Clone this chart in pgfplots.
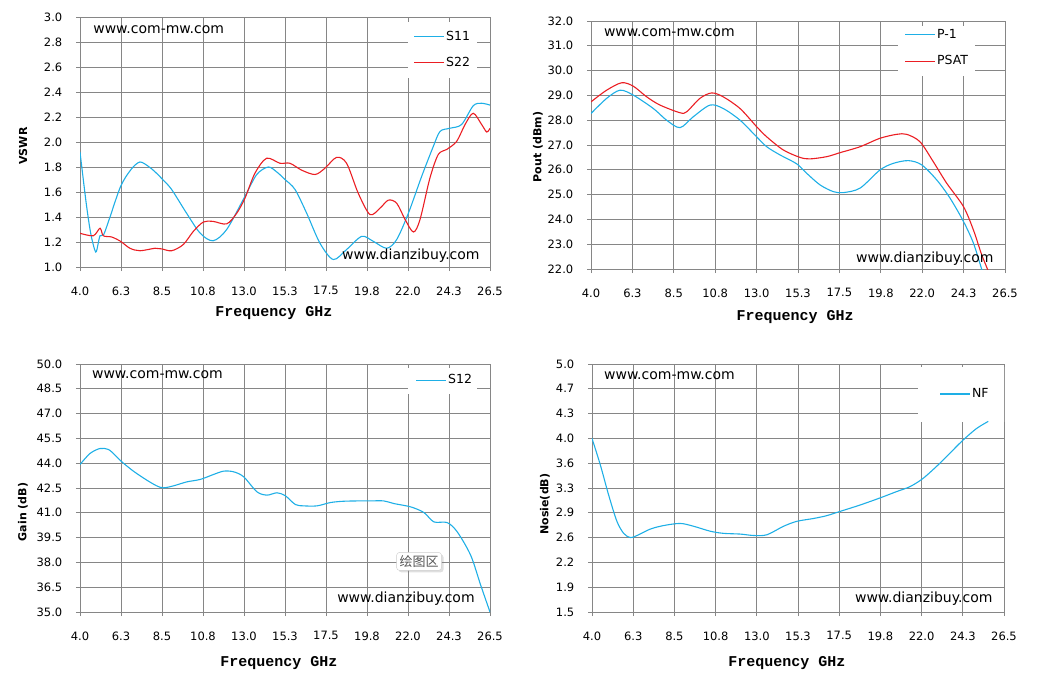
\documentclass[border=0pt]{standalone}
\usepackage{fontspec}
\setmainfont{DejaVu Sans}
\newfontfamily\monofont{Liberation Mono}
\newfontfamily\cjk{Noto Sans CJK SC}
\usepackage{pgfplots}
\pgfplotsset{compat=1.18}
\usetikzlibrary{shadows}
\definecolor{cblue}{RGB}{30,175,230}
\definecolor{cred}{RGB}{235,30,35}
\definecolor{cgrid}{RGB}{134,134,134}
\tikzset{wm/.style={anchor=west, font=\fontsize{14bp}{16bp}\selectfont, inner sep=0pt}}
\pgfplotsset{
  rfstyle/.style={
    scale only axis, width=410bp, height=248bp,
    xmin=4, xmax=26.5,
    xtick={4,6.25,8.5,10.75,13,15.25,17.5,19.75,22,24.25,26.5},
    xticklabels={4.0,6.3,8.5,10.8,13.0,15.3,17.5,19.8,22.0,24.3,26.5},
    grid=major, grid style={cgrid, line width=0.8bp},
    axis line style={cgrid, line width=0.8bp},
    tick style={cgrid, line width=0.8bp},
    tick align=outside, major tick length=4bp, tick pos=left,
    tick label style={font=\fontsize{11.5bp}{13bp}\selectfont, black},
    xticklabel style={yshift=-12bp},
    yticklabel style={xshift=-10.2bp},
    xlabel={Frequency GHz},
    xlabel style={font=\monofont\bfseries\fontsize{15bp}{17bp}\selectfont, anchor=center},
    ylabel style={font=\bfseries\fontsize{11bp}{13bp}\selectfont, anchor=center},
    legend style={draw=none, fill=none, inner sep=0pt, column sep=0bp, row sep=12bp,
      nodes={inner sep=1.5bp, text depth=0.2em}, cells={anchor=west},
      font=\fontsize{12.5bp}{14bp}\selectfont, anchor=west},
    legend image code/.code={\draw[#1] (0bp,0bp) -- (30bp,0bp);},
    every axis plot/.append style={line width=1.1bp, smooth, tension=0.5},
    /pgf/number format/assume math mode=true,
  },
}
\begin{document}
\begin{tikzpicture}
\path[use as bounding box] (0,0) rectangle (1046bp,-692bp);

% ---------------- Panel 1: VSWR
\begin{axis}[rfstyle, at={(80bp,-17bp)}, anchor=north west, height=250bp,
  ymin=1, ymax=3, ytick={1,1.2,1.4,1.6,1.8,2,2.2,2.4,2.6,2.8,3},
  yticklabels={1.0,1.2,1.4,1.6,1.8,2.0,2.2,2.4,2.6,2.8,3.0},
  ylabel={VSWR},
  xlabel style={at={(axis description cs:0.473,-0.184)}},
  ylabel style={at={(axis description cs:-0.139,0.484)}},
  legend style={at={(axis description cs:0.813,0.87)}}]
\fill[white] (axis description cs:0.8,0.98) rectangle (axis description cs:0.968,0.756);
\addplot[cblue] coordinates {(4.0,1.92) (4.35,1.5) (4.6,1.26) (4.86,1.12) (5.0,1.19) (5.1,1.25) (5.3,1.26) (5.6,1.38) (6.23,1.645) (6.8,1.78) (7.29,1.84) (7.8,1.8) (8.2,1.75) (8.6,1.69) (9.03,1.62) (9.85,1.43) (10.6,1.27) (11.3,1.21) (12.05,1.30) (13.05,1.565) (13.7,1.74) (14.33,1.80) (14.8,1.76) (15.25,1.70) (15.8,1.62) (16.44,1.43) (17.17,1.19) (17.9,1.06) (18.63,1.14) (19.46,1.245) (20.1,1.205) (20.83,1.15) (21.38,1.22) (22.02,1.43) (22.75,1.725) (23.39,1.965) (23.76,2.085) (24.3,2.11) (24.94,2.14) (25.58,2.29) (26.04,2.31) (26.5,2.295)};
\addlegendentry{S11}
\addplot[cred] coordinates {(4.0,1.27) (4.73,1.25) (5.1,1.31) (5.28,1.25) (5.74,1.24) (6.23,1.205) (6.74,1.15) (7.29,1.13) (8.12,1.15) (8.48,1.145) (9.03,1.13) (9.67,1.18) (10.22,1.285) (10.77,1.36) (11.3,1.365) (12.05,1.345) (12.6,1.43) (13.05,1.55) (13.6,1.75) (14.24,1.87) (14.97,1.83) (15.52,1.83) (16.16,1.775) (16.9,1.74) (17.44,1.79) (18.08,1.877) (18.63,1.83) (19.27,1.59) (19.91,1.42) (20.46,1.47) (20.92,1.535) (21.38,1.51) (21.84,1.38) (22.3,1.28) (22.66,1.38) (23.2,1.71) (23.66,1.9) (24.12,1.94) (24.67,2.005) (25.13,2.14) (25.58,2.23) (26.04,2.14) (26.32,2.08) (26.5,2.11)};
\addlegendentry{S22}
\node[wm] at (axis description cs:0.032,0.948) {www.com-mw.com};
\node[wm] at (axis description cs:0.639,0.044) {www.dianzibuy.com};
\end{axis}

% ---------------- Panel 2: Pout
\begin{axis}[rfstyle, at={(591bp,-21bp)}, anchor=north west, width=414bp,
  ymin=22, ymax=32, ytick={22,23,...,32},
  yticklabels={22.0,23.0,24.0,25.0,26.0,27.0,28.0,29.0,30.0,31.0,32.0},
  ylabel={Pout (dBm)},
  xlabel style={at={(axis description cs:0.493,-0.194)}},
  ylabel style={at={(axis description cs:-0.128,0.492)}},
  legend style={at={(axis description cs:0.757,0.891)}}]
\fill[white] (axis description cs:0.742,0.98) rectangle (axis description cs:0.928,0.778);
\addplot[cblue] coordinates {(4.0,28.27) (4.85,28.88) (5.58,29.21) (6.3,29.01) (7.39,28.47) (8.11,28.0) (8.84,27.7) (9.56,28.14) (10.47,28.61) (11.19,28.47) (12.1,28.0) (13.0,27.33) (13.55,26.93) (14.27,26.6) (15.18,26.24) (15.72,25.86) (16.45,25.39) (17.17,25.12) (17.71,25.08) (18.62,25.26) (19.7,25.99) (20.43,26.26) (21.25,26.37) (21.97,26.2) (22.79,25.59) (23.51,24.86) (24.24,23.92) (24.78,23.05) (25.23,22.0) (25.45,21.5)};
\addlegendentry{P-1}
\addplot[cred] coordinates {(4.0,28.74) (4.85,29.21) (5.67,29.51) (6.3,29.37) (7.03,28.94) (7.75,28.61) (8.84,28.3) (9.2,28.34) (9.92,28.88) (10.56,29.1) (11.19,28.94) (12.1,28.47) (13.0,27.74) (13.55,27.33) (14.45,26.8) (15.36,26.5) (15.9,26.44) (16.81,26.53) (17.53,26.69) (18.62,26.93) (19.7,27.27) (20.61,27.43) (21.16,27.43) (21.88,27.13) (22.6,26.33) (23.33,25.46) (24.24,24.52) (24.78,23.58) (25.23,22.58) (25.56,21.97) (25.75,21.5)};
\addlegendentry{PSAT}
\node[wm] at (axis description cs:0.031,0.952) {www.com-mw.com};
\node[wm] at (axis description cs:0.64,0.04) {www.dianzibuy.com};
\end{axis}

% ---------------- Panel 3: Gain
\begin{axis}[rfstyle, at={(80bp,-364bp)}, anchor=north west,
  ymin=35, ymax=50, ytick={35,36.5,38,39.5,41,42.5,44,45.5,47,48.5,50},
  yticklabels={35.0,36.5,38.0,39.5,41.0,42.5,44.0,45.5,47.0,48.5,50.0},
  ylabel={Gain (dB)},
  xlabel style={at={(axis description cs:0.485,-0.206)}},
  ylabel style={at={(axis description cs:-0.139,0.403)}},
  legend style={at={(axis description cs:0.818,0.935)}}]
\fill[white] (axis description cs:0.8,0.984) rectangle (axis description cs:0.968,0.879);
\addplot[cblue] coordinates {(4.0,43.92) (4.55,44.59) (5.1,44.89) (5.56,44.83) (5.92,44.49) (6.29,44.09) (6.93,43.52) (7.66,42.98) (8.21,42.63) (8.58,42.51) (9.13,42.63) (9.86,42.87) (10.6,43.02) (11.33,43.32) (11.88,43.52) (12.43,43.48) (12.98,43.18) (13.71,42.27) (14.26,42.07) (14.81,42.21) (15.27,42.03) (15.82,41.5) (16.28,41.42) (17.01,41.42) (17.74,41.62) (18.47,41.7) (19.39,41.72) (19.94,41.72) (20.67,41.72) (21.22,41.56) (22.14,41.36) (22.87,41.02) (23.42,40.45) (24.15,40.41) (24.7,39.85) (25.44,38.43) (25.99,36.62) (26.5,35.0)};
\addlegendentry{S12}
\node[wm] at (axis description cs:0.029,0.956) {www.com-mw.com};
\node[wm] at (axis description cs:0.627,0.052) {www.dianzibuy.com};
\node[draw={rgb,255:red,205;green,205;blue,205}, fill=white, rounded corners=3bp,
  drop shadow={opacity=0.25, shadow xshift=2bp, shadow yshift=-2bp},
  font=\cjk\fontsize{13bp}{14bp}\selectfont, text={rgb,255:red,85;green,85;blue,85},
  inner sep=3bp] at (axis description cs:0.827,0.204) {绘图区};
\end{axis}

% ---------------- Panel 4: NF
\begin{axis}[rfstyle, at={(592bp,-364bp)}, anchor=north west, width=412bp,
  ymin=1.5, ymax=5, ytick={1.5,1.85,2.2,2.55,2.9,3.25,3.6,3.95,4.3,4.65,5.0},
  yticklabels={1.5,1.9,2.2,2.6,2.9,3.3,3.6,4.0,4.3,4.7,5.0},
  ylabel={Nosie(dB)},
  xlabel style={at={(axis description cs:0.473,-0.206)}},
  ylabel style={at={(axis description cs:-0.114,0.435)}},
  legend style={at={(axis description cs:0.843,0.879)}}]
\fill[white] (axis description cs:0.791,0.988) rectangle (axis description cs:1.01,0.766);
\addplot[cblue] coordinates {(4.0,3.95) (4.45,3.58) (4.91,3.15) (5.36,2.78) (5.73,2.61) (6.09,2.55) (6.46,2.58) (7.18,2.67) (7.91,2.72) (8.82,2.75) (9.55,2.71) (10.46,2.64) (11.18,2.61) (12.09,2.60) (12.82,2.58) (13.55,2.59) (14.46,2.71) (15.19,2.78) (16.1,2.82) (16.82,2.86) (17.55,2.92) (18.64,3.01) (19.73,3.11) (20.64,3.2) (21.37,3.27) (22.1,3.39) (23.0,3.6) (23.73,3.79) (24.28,3.93) (25.0,4.09) (25.64,4.19)};
\addlegendentry{NF}
\node[wm] at (axis description cs:0.029,0.952) {www.com-mw.com};
\node[wm] at (axis description cs:0.638,0.052) {www.dianzibuy.com};
\end{axis}
\end{tikzpicture}
\end{document}
